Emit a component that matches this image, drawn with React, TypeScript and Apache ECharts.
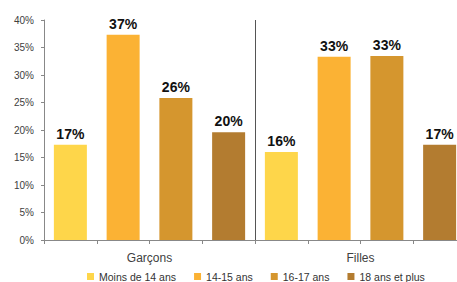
import React, { useEffect, useRef } from "react";
import * as echarts from "echarts";

const groups = ["Garçons", "Filles"];
const ageGroups = ["Moins de 14 ans", "14-15 ans", "16-17 ans", "18 ans et plus"];
const garcons = [17.3, 37.3, 25.8, 19.6];
const filles = [16.0, 33.3, 33.45, 17.3];
const colors = ["#FED64A", "#FBB234", "#D5962E", "#B37C30"];
const yTicks = [0, 5, 10, 15, 20, 25, 30, 35, 40];

export default function App() {
  const ref = useRef<HTMLDivElement>(null);
  useEffect(() => {
    if (!ref.current) return;
    const chart = echarts.init(ref.current, null, { renderer: "svg" });
    const cats: string[] = [];
    groups.forEach((g) => ageGroups.forEach((a) => cats.push(g + " - " + a)));
    const series = ageGroups.map((name, i) => {
      const data: any[] = cats.map(() => "-");
      data[i] = garcons[i];
      data[4 + i] = filles[i];
      return {
        name,
        type: "bar",
        xAxisIndex: 0,
        barWidth: 33,
        barGap: "-100%",
        itemStyle: { color: colors[i] },
        label: {
          show: true,
          position: "top",
          distance: 4,
          formatter: (p: any) => Math.round(p.value) + "%",
          fontSize: 14,
          fontWeight: "bold",
          color: "#111",
          fontFamily: "Liberation Sans, Arial, sans-serif",
        },
        data,
      };
    });
    chart.setOption({
      animation: false,
      color: colors,
      textStyle: { fontFamily: "Liberation Sans, Arial, sans-serif" },
      grid: { left: 44, right: 0, top: 20, bottom: 42, containLabel: false },
      legend: {
        data: ageGroups,
        left: 87,
        top: 271,
        padding: 0,
        icon: "rect",
        itemWidth: 7,
        itemHeight: 7,
        itemGap: 18,
        textStyle: { fontSize: 10.5, color: "#333" },
      },
      xAxis: [
        {
          type: "category",
          data: cats,
          z: 2,
          axisLabel: { show: false },
          axisLine: { lineStyle: { color: "#888" } },
          axisTick: { show: true, length: 4, interval: 0, lineStyle: { color: "#888" } },
        },
        {
          type: "category",
          data: groups,
          position: "bottom",
          z: 1,
          axisLine: { show: false },
          axisTick: { show: false },
          axisLabel: { margin: 12, fontSize: 12, color: "#404040" },
          splitLine: {
            show: true,
            interval: 0,
            lineStyle: { color: "#555", width: 1 },
          },
        },
      ],
      yAxis: {
        type: "value",
        z: 3,
        min: yTicks[0],
        max: yTicks[yTicks.length - 1],
        interval: 5,
        axisLine: { show: true, lineStyle: { color: "#888" } },
        axisTick: { show: true, length: 3, lineStyle: { color: "#888" } },
        splitLine: { show: false },
        axisLabel: { formatter: "{value}%", fontSize: 10, color: "#404040", margin: 10 },
      },
      series,
    });
    return () => chart.dispose();
  }, []);
  return (
    <div
      style={{
        position: "fixed",
        left: 0,
        top: 0,
        width: 457,
        height: 282,
        overflow: "hidden",
        background: "#fff",
      }}
    >
      <div ref={ref} style={{ width: 466, height: 282 }} />
    </div>
  );
}
